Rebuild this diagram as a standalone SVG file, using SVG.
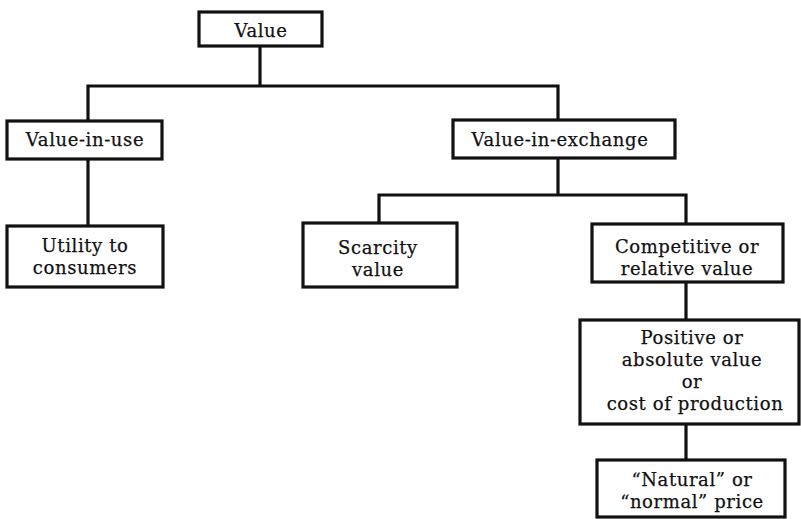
<svg xmlns="http://www.w3.org/2000/svg" width="801" height="519" viewBox="0 0 801 519">
<style>
.box{fill:#fff;stroke:#111;stroke-width:3.2}
.ln{fill:none;stroke:#111;stroke-width:3.2;stroke-linecap:square}
.t{font-family:"DejaVu Serif",serif;font-size:18px;fill:#111;stroke:#111;stroke-width:0.25;text-anchor:middle;letter-spacing:0.6px}
</style>
<rect width="801" height="519" fill="#fff"/>
<g id="connectors">
<path class="ln" d="M260,46 V86 M88,86 H558 M88,86 V121 M558,86 V120"/>
<path class="ln" d="M88,159 V226"/>
<path class="ln" d="M558,158 V195 M379,195 H686 M379,195 V223 M686,195 V224"/>
<path class="ln" d="M686,282 V320 M686,424 V460"/>
</g>
<g id="value">
<rect class="box" x="199" y="12" width="123" height="34"/>
<text class="t" x="261" y="37" font-size="20">Value</text>
</g>
<g id="value-in-use">
<rect class="box" x="7" y="121" width="155" height="38"/>
<text class="t" x="85" y="146">Value-in-use</text>
</g>
<g id="value-in-exchange">
<rect class="box" x="453" y="120" width="222" height="38"/>
<text class="t" x="560" y="146" letter-spacing="0.3">Value-in-exchange</text>
</g>
<g id="utility">
<rect class="box" x="7" y="226" width="156" height="61"/>
<text class="t" x="85" y="252">Utility to</text>
<text class="t" x="85" y="274">consumers</text>
</g>
<g id="scarcity">
<rect class="box" x="303" y="223" width="154" height="64"/>
<text class="t" x="378" y="254">Scarcity</text>
<text class="t" x="378" y="276">value</text>
</g>
<g id="competitive">
<rect class="box" x="592" y="224" width="191" height="58"/>
<text class="t" x="687" y="253" letter-spacing="1.1">Competitive or</text>
<text class="t" x="687" y="275" letter-spacing="1.1">relative value</text>
</g>
<g id="positive">
<rect class="box" x="580" y="320" width="219" height="104"/>
<text class="t" x="692" y="344" letter-spacing="1">Positive or</text>
<text class="t" x="692" y="366" letter-spacing="1">absolute value</text>
<text class="t" x="692" y="388">or</text>
<text class="t" x="695" y="410">cost of production</text>
</g>
<g id="natural">
<rect class="box" x="597" y="460" width="188" height="57"/>
<text class="t" x="692" y="486" letter-spacing="1">“Natural” or</text>
<text class="t" x="692" y="508" letter-spacing="1">“normal” price</text>
</g>
</svg>
